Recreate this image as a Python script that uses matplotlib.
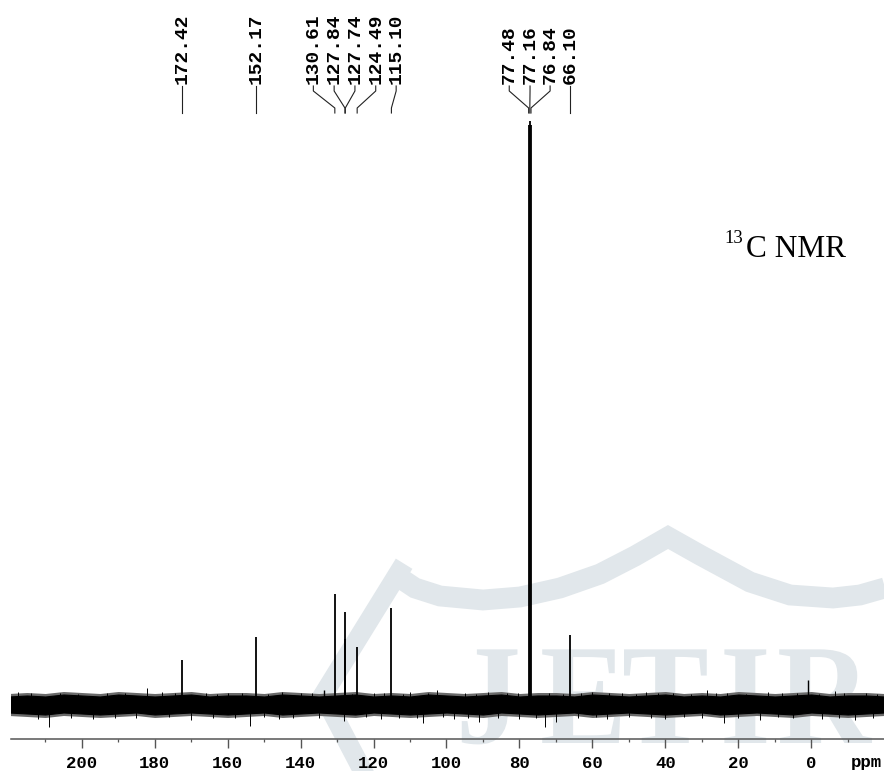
"""
13C NMR spectrum (CDCl3) with peak picking labels, as in the paper figure.
Stick spectrum drawn over a baseline noise band; journal watermark behind.
"""
import numpy as np
import matplotlib.pyplot as plt
from matplotlib.ticker import MultipleLocator
from matplotlib.textpath import TextPath
from matplotlib.patches import PathPatch
from matplotlib.font_manager import FontProperties
from matplotlib.transforms import Affine2D

# ---- picked peaks (ppm) and their heights above the baseline ----
peak_ppm = [172.42, 152.17, 130.61, 127.84, 127.74, 124.49, 115.10,
            77.48, 77.16, 76.84, 66.10]
peak_height = [44.5, 67.5, 110.5, 92.5, 65.5, 57.5, 96.5,
               580.0, 583.5, 580.0, 69.5]

# small unlabelled signals
extra_ppm = [133.6, 1.0]
extra_height = [15.0, 24.5]

# baseline noise: envelope every 5 ppm from 220 down to -20
env_ppm = np.arange(220, -21, -5)
env_upper = [8, 9, 8, 10, 9, 8, 10, 9, 8, 9, 10, 8, 9, 9, 8, 10,
             9, 8, 9, 10, 8, 9, 8, 10, 9, 8, 9, 10, 8, 9, 9, 8,
             10, 9, 8, 9, 10, 8, 9, 8, 10, 9, 8, 9, 10, 8, 9, 9, 8]
env_lower = [-8, -9, -10, -8, -9, -10, -9, -8, -10, -9, -8, -9, -10, -9,
             -8, -10, -9, -8, -9, -10, -8, -9, -10, -9, -8, -9, -10, -8,
             -9, -10, -9, -8, -10, -9, -8, -9, -10, -9, -8, -10, -9, -8,
             -9, -10, -8, -9, -10, -9, -8]

# noise spikes poking out of the band
spike_ppm = [217.5, 214.0, 206.0, 201.0, 193.0, 188.0, 182.2, 178.0, 174.5,
             166.0, 163.0, 160.0, 156.0, 149.0, 145.0, 140.0, 137.0, 126.0,
             120.0, 117.0, 112.0, 110.0, 105.0, 102.7, 95.0, 92.0, 88.6,
             83.5, 80.5, 72.0, 68.0, 63.0, 60.0, 55.5, 52.0, 48.0, 45.3,
             42.0, 38.0, 33.0, 28.7, 26.0, 23.0, 18.0, 12.0, 8.0, 4.0,
             -2.0, -6.5, -9.0, -15.0, -18.0,
             212.0, 209.0, 203.0, 197.0, 191.0, 185.0, 176.0, 170.0, 164.0,
             158.0, 153.9, 150.0, 146.0, 142.0, 135.0, 128.0, 122.0, 118.0,
             113.0, 108.0, 106.5, 101.0, 98.0, 94.0, 91.0, 86.0, 80.0, 75.5,
             73.0, 70.0, 64.0, 59.0, 56.0, 50.0, 44.0, 40.0, 35.0, 30.0,
             24.0, 20.0, 14.0, 9.0, 5.0, -3.0, -7.5, -12.0, -17.0]
spike_height = [13, 12, 12, 11, 12, 12, 17, 13, 12, 12, 11, 12, 12, 11, 13,
                12, 12, 11, 12, 12, 11, 13, 12, 15, 12, 11, 13, 12, 12, 12,
                11, 12, 13, 12, 12, 11, 13, 12, 12, 11, 15, 12, 12, 11, 13,
                12, 12, 11, 14, 12, 12, 11,
                -14, -22, -13, -14, -13, -13, -12, -15, -13, -13, -21, -12,
                -14, -13, -13, -16, -12, -14, -13, -13, -18, -12, -14, -13,
                -17, -13, -14, -13, -22, -17, -13, -12, -14, -12, -13, -14,
                -12, -13, -18, -13, -15, -12, -13, -14, -13, -15, -13]

major_ticks = [0, 20, 40, 60, 80, 100, 120, 140, 160, 180, 200]

# where the label stems start (spread out so the text does not overlap)
label_x = [172.42, 152.17, 136.5, 130.8, 125.1, 119.4, 113.8,
           82.8, 77.1, 71.6, 66.1]

W, H = 884, 771
BASE = 704.5          # pixel row of the spectrum baseline
WM = "#e1e7eb"        # watermark colour

fig = plt.figure(figsize=(W / 100, H / 100), dpi=100)

# ---- background layer (pixel coords): watermark + free text ----
bg = fig.add_axes([0, 0, 1, 1], zorder=-1)
bg.set_xlim(0, W)
bg.set_ylim(H, 0)
bg.axis("off")

roof_x = [397, 415, 440, 483, 520, 560, 600, 635, 668, 700, 750, 790,
          833, 860, 895]
roof_y = [576, 588, 596, 600, 597, 588, 574, 556, 537, 555, 582, 595,
          598, 595, 585]
bg.plot(roof_x, roof_y, color=WM, lw=15, solid_joinstyle="miter",
        solid_capstyle="butt")
bg.plot([399, 323, 378], [572, 695, 800], color=WM, lw=14,
        solid_joinstyle="miter")
wm_font = FontProperties(family="Liberation Serif", weight="bold")
for ch, x0 in zip("JETIR", [456, 540, 622, 720, 777]):
    tp = TextPath((0, 0), ch, size=1, prop=wm_font)
    tr = Affine2D().scale(130, -143).translate(x0, 743)
    bg.add_patch(PathPatch(tr.transform_path(tp), color=WM, lw=0))

bg.text(724, 243, "13", fontsize=13.5, family="Liberation Serif",
        ha="left", va="baseline")
bg.text(746, 257, "C NMR", fontsize=22.5, family="Liberation Serif",
        ha="left", va="baseline")
bg.text(866, 763, "ppm", fontsize=12.5, family="Liberation Mono",
        weight="bold", ha="center", va="center")

# ---- spectrum axes: y in "pixels above baseline" ----
ax = fig.add_axes([11 / W, (H - 739) / H, 873 / W, 739 / H], zorder=1)
ax.patch.set_alpha(0)
ax.set_xlim((811.3 - 11) / 3.648, (811.3 - 884) / 3.648)
ax.set_ylim(BASE - 739, BASE)

lo = np.array(env_lower)
hi = np.array(env_upper)
ax.fill_between(env_ppm, lo - 3, hi + 3, color="#6a6a6a", lw=0)
ax.fill_between(env_ppm, lo, hi, color="black", lw=0.8)
ax.vlines(spike_ppm, 0, spike_height, color="black", lw=0.7)
ax.vlines(extra_ppm, 0, extra_height, color="black", lw=1.0)
ax.vlines(peak_ppm, 0, peak_height, color="black", lw=1.3)

# peak labels with bent stems
for p, lx in zip(peak_ppm, label_x):
    ax.plot([lx, lx, p, p],
            [BASE - 86, BASE - 91, BASE - 108, BASE - 113],
            color="#222222", lw=0.8, clip_on=False)
    ax.text(lx, BASE - 84, f"{p:.2f}", rotation=90, ha="center", va="bottom",
            fontsize=14, family="Liberation Mono", weight="bold",
            clip_on=False)

for s in ["left", "right", "top"]:
    ax.spines[s].set_visible(False)
ax.spines["bottom"].set_color("#555555")
ax.spines["bottom"].set_linewidth(1.1)
ax.set_yticks([])
ax.set_xticks(major_ticks)
ax.xaxis.set_minor_locator(MultipleLocator(10))
ax.tick_params(axis="x", which="major", direction="out", length=6.5,
               width=1.0, color="#555555", pad=5.5)
ax.tick_params(axis="x", which="minor", direction="out", length=2.5,
               width=0.9, color="#555555")
for t in ax.get_xticklabels():
    t.set_fontfamily("Liberation Mono")
    t.set_fontweight("bold")
    t.set_fontsize(12.5)

fig.savefig("out.png", dpi=100)
